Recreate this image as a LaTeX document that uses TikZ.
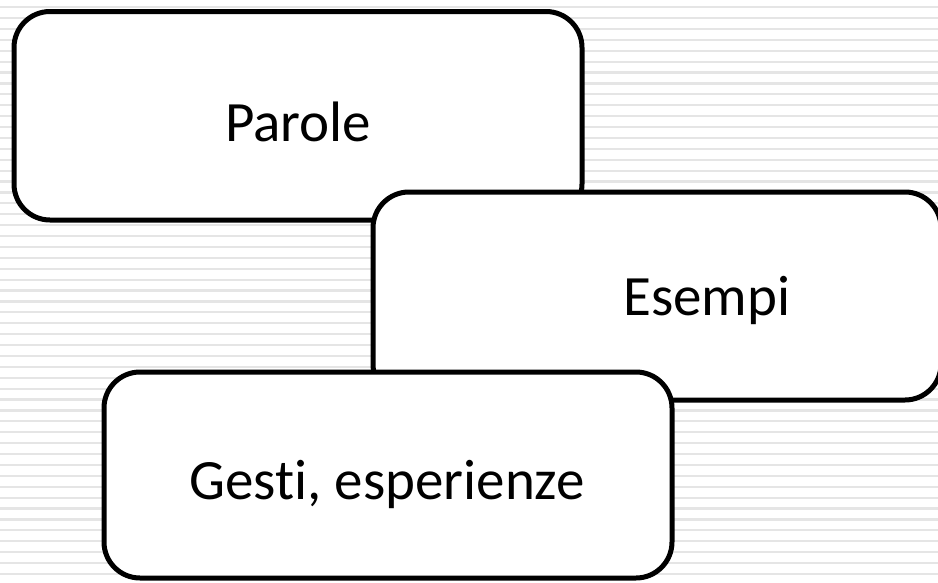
\documentclass[tikz,border=0pt]{standalone}
\usepackage{fontspec}
\setmainfont{Carlito}[Ligatures={NoCommon}]
\tikzset{
  card/.style={draw=black, fill=white, line width=5pt, rounded corners=36pt},
  cardtext/.style={font=\fontsize{57}{68}\selectfont, inner sep=0pt},
  stripe/.style={draw=black!10, line width=2.2pt}
}
\begin{document}
\begin{tikzpicture}[x=1pt,y=-1pt]
\useasboundingbox (0,0) rectangle (938,582);
\fill[white] (0,0) rectangle (938,582);
\foreach \k in {0,...,53} {
  \draw[stripe] (0,{7.1+\k*10.9}) -- (938,{7.1+\k*10.9});
}
\draw[card] (14,11.5) rectangle (582,220);
\draw[card] (373,192) rectangle (941,400);
\draw[card] (104,372) rectangle (672,578);
\node[cardtext] (parole) at (298,122) {Parole};
\node[cardtext] (esempi) at (707,300) {Esempi};
\node[cardtext] (gesti) at (387,484) {Gesti, esperienze};
\end{tikzpicture}
\end{document}
